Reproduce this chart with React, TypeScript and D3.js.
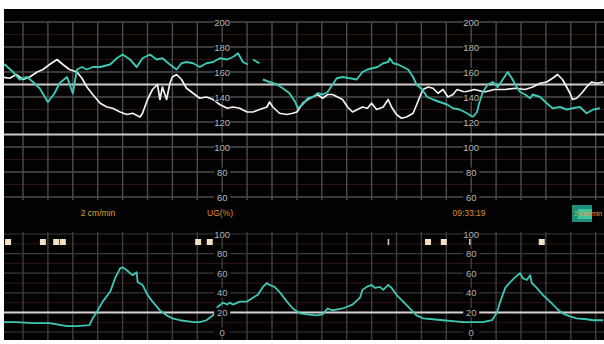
import React from "react";
import * as d3 from "d3";

// ---- data ----
// time in seconds, fetal heart rate (bpm); null = signal gap
const fhrTeal: [number, number | null][] = [
  [4, 164], [8, 166], [18, 160], [26, 154], [35, 156], [42, 152], [50, 147], [60, 136], [68, 143], [74, 151],
  [83, 156], [90, 143], [95, 162], [101, 164], [107, 162], [114, 164], [123, 164], [135, 166], [143, 171],
  [150, 174], [159, 170], [167, 164], [174, 171], [183, 174], [191, 170], [198, 171], [207, 166], [215, 162],
  [221, 167], [227, 168], [235, 167], [243, 164], [251, 167], [259, 168], [267, 171], [276, 170], [283, 172],
  [289, 175], [295, 168], [301, 166], [304, null], [307, 170], [315, 167], [317, null], [319, 154], [327, 152],
  [336, 150], [343, 147], [351, 143], [358, 136], [361, 131], [367, 134], [373, 139], [379, 140], [385, 143],
  [391, 142], [397, 144], [403, 150], [408, 155], [415, 156], [424, 155], [432, 154], [439, 160], [445, 162],
  [451, 163], [457, 164], [464, 167], [470, 168], [472, 171], [476, 167], [482, 166], [488, 164], [494, 162],
  [500, 156], [504, 150], [511, 146], [517, 140], [524, 138], [532, 136], [541, 134], [548, 131], [556, 130],
  [565, 127], [572, 124], [577, 128], [580, 136], [584, 144], [590, 150], [596, 152], [602, 148], [608, 154],
  [614, 160], [619, 155], [623, 150], [629, 144], [635, 142], [641, 139], [644, 142], [653, 140], [661, 135],
  [668, 131], [677, 132], [685, 130], [692, 131], [701, 132], [709, 127], [717, 130], [725, 131],
];

const fhrWhite: [number, number | null][] = [
  [4, 156], [14, 155], [22, 158], [30, 154], [38, 156], [47, 160], [54, 162], [62, 166], [71, 170], [78, 166],
  [86, 162], [95, 160], [101, 155], [107, 148], [114, 142], [123, 135], [131, 132], [138, 131], [147, 128],
  [155, 126], [162, 127], [171, 124], [174, 127], [180, 138], [186, 146], [192, 150], [195, 138], [198, 148],
  [203, 138], [207, 151], [210, 156], [215, 158], [221, 154], [227, 147], [235, 143], [243, 139], [251, 140],
  [259, 138], [267, 134], [276, 131], [283, 132], [291, 131], [300, 128], [307, 128], [315, 130], [324, 132],
  [327, 136], [331, 132], [339, 127], [348, 126], [355, 127], [360, 128], [367, 135], [373, 138], [379, 140],
  [385, 142], [391, 139], [397, 142], [403, 142], [409, 140], [415, 138], [421, 132], [427, 128], [433, 130],
  [439, 132], [445, 131], [450, 135], [456, 130], [464, 132], [470, 138], [474, 132], [480, 126], [486, 123],
  [492, 124], [500, 127], [505, 135], [508, 140], [512, 146], [518, 148], [524, 147], [530, 143], [536, 146],
  [542, 140], [548, 142], [553, 146], [562, 144], [574, 146], [586, 144], [598, 146], [611, 146], [623, 147],
  [635, 146], [644, 148], [653, 151], [661, 152], [668, 155], [674, 158], [680, 154], [685, 148], [689, 143],
  [692, 138], [697, 139], [703, 143], [709, 148], [715, 152], [721, 151], [729, 152],
];

// uterine activity (%)
const uterine: [number, number][] = [
  [4, 10], [22, 10], [42, 9], [62, 9], [83, 6], [95, 6], [110, 7], [114, 14], [120, 22], [126, 31], [135, 41],
  [141, 55], [147, 65], [150, 66], [155, 63], [159, 60], [162, 58], [167, 61], [168, 51], [174, 48], [180, 38],
  [186, 31], [195, 22], [203, 17], [210, 14], [219, 12], [227, 11], [235, 10], [243, 10], [251, 12], [259, 17],
  [265, 26], [271, 30], [276, 28], [279, 30], [283, 28], [291, 31], [300, 31], [307, 35], [313, 38], [319, 46],
  [324, 50], [327, 48], [333, 46], [339, 41], [348, 31], [355, 24], [364, 19], [372, 18], [384, 17], [391, 18],
  [397, 24], [403, 22], [415, 24], [427, 28], [436, 35], [439, 43], [444, 46], [450, 48], [454, 45], [460, 46],
  [464, 43], [470, 48], [474, 45], [480, 38], [488, 31], [496, 24], [504, 17], [512, 14], [524, 13], [536, 12],
  [548, 11], [560, 10], [572, 10], [584, 10], [595, 12], [601, 20], [605, 31], [611, 45], [617, 51], [623, 56],
  [629, 60], [632, 55], [637, 53], [641, 58], [643, 50], [649, 45], [656, 38], [665, 31], [673, 24], [680, 19],
  [689, 16], [697, 14], [709, 13], [717, 12], [729, 12],
];

const fhrTicks = [200, 180, 160, 140, 120, 100, 80, 60];
const fhrMinor = [190, 170, 150, 130, 110, 90, 70];
const uaTicks = [100, 80, 60, 40, 20, 0];
const uaMinor = [90, 70, 50, 30, 10];
const fhrRefLines = [150, 110];
const uaRefLines = [20];
const labelTimes = [270, 570];
const gridTimes = d3.range(30, 751, 30);
const eventTimes = [12, 54, 70, 78, 241, 255, 518, 537, 655];
const eventTicks = [470, 568];
const speedText = "2 cm/min";
const uaText = "UG(%)";
const clockText = "09:33:19";

export default function App() {
  const W = 604;
  const H = 344;
  const x = d3.scaleLinear().domain([0, 720]).range([-1.9, 595.7]);
  const yF = d3.scaleLinear().domain([60, 200]).range([197, 22]);
  const yU = d3.scaleLinear().domain([0, 100]).range([332, 234]);

  const lineF = d3
    .line<[number, number | null]>()
    .defined((d) => d[1] !== null)
    .x((d) => x(d[0]))
    .y((d) => yF(d[1] as number));
  const lineU = d3
    .line<[number, number]>()
    .x((d) => x(d[0]))
    .y((d) => yU(d[1]));

  const labelFont = "'Liberation Sans Narrow', 'Liberation Sans', Arial, sans-serif";
  const gridCol = "#4c4c4c";
  const minorCol = "#2e1616";
  const teal = "#3ec7b3";

  return (
    <svg
      width={W}
      height={H}
      style={{ position: "absolute", left: 0, top: 0, background: "#fff" }}
    >
      <defs>
        <clipPath id="plot">
          <rect x={4} y={9} width={600} height={331} />
        </clipPath>
      </defs>
      <rect x={4} y={9} width={600} height={331} fill="#020202" />
      <g clipPath="url(#plot)">
        {fhrMinor.map((v) => (
          <line key={"fm" + v} x1={4} x2={604} y1={yF(v)} y2={yF(v)} stroke={minorCol} strokeWidth={1} />
        ))}
        {fhrTicks.map((v) => (
          <line key={"fh" + v} x1={4} x2={604} y1={yF(v)} y2={yF(v)} stroke={gridCol} strokeWidth={1.4} />
        ))}
        {gridTimes.map((t) => (
          <line key={"fv" + t} x1={x(t)} x2={x(t)} y1={yF(200)} y2={200} stroke={gridCol} strokeWidth={1.4} />
        ))}
        {uaMinor.map((v) => (
          <line key={"um" + v} x1={4} x2={604} y1={yU(v)} y2={yU(v)} stroke={minorCol} strokeWidth={1} />
        ))}
        {uaTicks.map((v) => (
          <line key={"uh" + v} x1={4} x2={604} y1={yU(v)} y2={yU(v)} stroke="#3a3a3a" strokeWidth={1.2} />
        ))}
        {gridTimes.map((t) => (
          <line key={"uv" + t} x1={x(t)} x2={x(t)} y1={232} y2={340} stroke="#3e3e3e" strokeWidth={1.4} />
        ))}

        {fhrRefLines.map((v) => (
          <line key={"fr" + v} x1={4} x2={604} y1={yF(v)} y2={yF(v)} stroke="#cfc9c9" strokeWidth={2} />
        ))}
        {uaRefLines.map((v) => (
          <line key={"ur" + v} x1={4} x2={604} y1={yU(v)} y2={yU(v)} stroke="#d4d0d0" strokeWidth={2} />
        ))}

        <path d={lineF(fhrWhite) || ""} fill="none" stroke="#f2f2f2" strokeWidth={1.7} strokeLinejoin="round" />
        <path d={lineF(fhrTeal) || ""} fill="none" stroke={teal} strokeWidth={1.9} strokeLinejoin="round" />
        <path d={lineU(uterine) || ""} fill="none" stroke={teal} strokeWidth={1.8} strokeLinejoin="round" />

        {labelTimes.map((t) => (
          <g key={"lab" + t}>
            {fhrTicks.map((v) => (
              <g key={"fl" + v}>
                <rect x={x(t) - 8} y={yF(v) - 4.5} width={16} height={9} fill="#050505" />
                <text x={x(t)} y={yF(v) + 3.5} textAnchor="middle" fontFamily={labelFont} fontSize={9.5} fill="#b8b8b8">
                  {v}
                </text>
              </g>
            ))}
            {uaTicks.map((v) => (
              <g key={"ul" + v}>
                <rect x={x(t) - 8} y={yU(v) - 4.5} width={16} height={9} fill="#050505" />
                <text x={x(t)} y={yU(v) + 3.5} textAnchor="middle" fontFamily={labelFont} fontSize={9.5} fill="#b0b0b0">
                  {v}
                </text>
              </g>
            ))}
          </g>
        ))}

        <rect x={4} y={201} width={600} height={28} fill="#020202" />
        <text x={98} y={216} textAnchor="middle" fontFamily={labelFont} fontSize={8.5} fill="#d9a233">
          {speedText}
        </text>
        <text x={220} y={216} textAnchor="middle" fontFamily={labelFont} fontSize={8.5} fill="#e08a2c">
          {uaText}
        </text>
        <text x={469} y={216} textAnchor="middle" fontFamily={labelFont} fontSize={8.5} fill="#d98e2e">
          {clockText}
        </text>
        <rect x={572} y={205} width={20} height={17} fill="#1f8f7c" />
        <rect x={578} y={209} width={14} height={10} fill="#3cc49a" />
        <text
          x={574}
          y={216}
          fontFamily={labelFont}
          fontSize={7.5}
          fill="#e0a040"
          textLength={28}
          lengthAdjust="spacingAndGlyphs"
        >
          {speedText}
        </text>

        {eventTimes.map((t) => (
          <rect key={"ev" + t} x={x(t) - 3} y={239} width={6} height={6} fill="#f1e2c4" />
        ))}
        {eventTicks.map((t) => (
          <rect key={"et" + t} x={x(t) - 0.5} y={239} width={1.5} height={6} fill="#d8d0c0" />
        ))}
      </g>
    </svg>
  );
}
